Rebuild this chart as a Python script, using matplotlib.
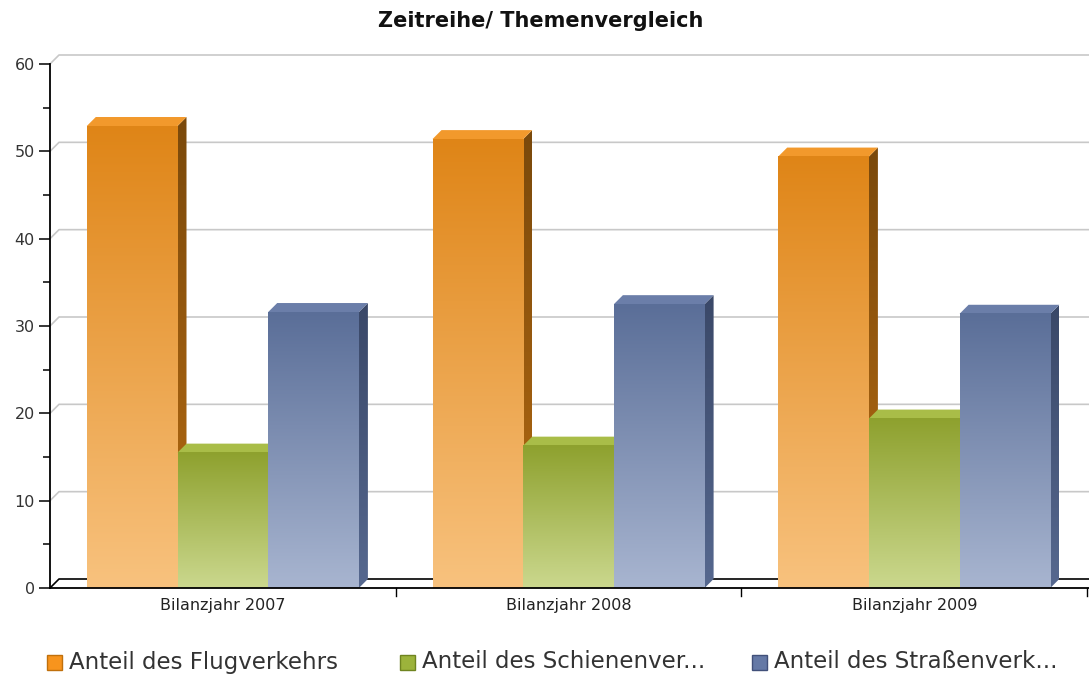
import numpy as np
import matplotlib
matplotlib.use("Agg")
import matplotlib.pyplot as plt
from matplotlib.patches import Polygon, Rectangle
from matplotlib.colors import LinearSegmentedColormap

# data
categories = ["Bilanzjahr 2007", "Bilanzjahr 2008", "Bilanzjahr 2009"]
series_names = ["Anteil des Flugverkehrs", "Anteil des Schienenver...", "Anteil des Straßenverk..."]
flug = [52.9, 51.4, 49.4]
schiene = [15.5, 16.3, 19.4]
strasse = [31.6, 32.5, 31.4]
series_values = [flug, schiene, strasse]

# colours per series: front (top, bottom), side (top, bottom), top face, legend
front_cols = [("#df8517", "#f8c27e"), ("#8ea12e", "#cbd88e"), ("#5a6e98", "#a8b5d0")]
side_cols = [("#7a490b", "#b86c12"), ("#5c6b1c", "#8c9d3a"), ("#3a4868", "#56688f")]
top_cols = ["#f2992c", "#a9bd48", "#6b7ea9"]
legend_cols = ["#f7941d", "#9cb33b", "#6579a6"]
legend_edge = ["#c0700c", "#6f8420", "#41507a"]

W, H = 1089, 675
fig = plt.figure(figsize=(W / 100, H / 100), dpi=100)

# axes placed in pixel terms: front x axis at y=588, 60 at y=64, left axis x=50
x0_px, y0_px, y60_px = 50, 588, 64
cat_px = 345.7
ax = fig.add_axes([x0_px / W, (H - y0_px) / H, (W - x0_px) / W, (y0_px - y60_px) / H])
ax.set_xlim(-0.5, -0.5 + (W - x0_px) / cat_px)
ax.set_ylim(0, 60)

px_y = (y0_px - y60_px) / 60.0
DX = 9 / cat_px
DY = 9 / px_y
bar_w = 90.7 / cat_px
xl = -0.5

# back wall grid lines
for v in range(10, 61, 10):
    ax.plot([xl, xl + DX, 3.2], [v, v + DY, v + DY], color="#c8c8c8", lw=1.2,
            zorder=1, clip_on=False)
ax.plot([xl, xl + DX, 3.2], [0, DY, DY], color="black", lw=1.2, zorder=1, clip_on=False)


def gradient(c_top, c_bot, extent, clip=None, z=3):
    cmap = LinearSegmentedColormap.from_list("g", [c_top, c_bot])
    grad = np.linspace(0, 1, 256).reshape(-1, 1)
    im = ax.imshow(grad, cmap=cmap, aspect="auto", extent=extent,
                   origin="upper", zorder=z, interpolation="bilinear")
    if clip is not None:
        im.set_clip_path(clip)
    return im


for i in range(len(categories)):
    for s, vals in enumerate(series_values):
        v = vals[i]
        left = i - 1.5 * bar_w + s * bar_w
        right = left + bar_w
        z = 3 + s
        # side face
        side = Polygon([(right, 0), (right + DX, DY), (right + DX, v + DY), (right, v)],
                       closed=True, facecolor="none", edgecolor="none", zorder=z)
        ax.add_patch(side)
        gradient(side_cols[s][0], side_cols[s][1], [right, right + DX, 0, v + DY], clip=side, z=z)
        # top face
        ax.add_patch(Polygon([(left, v), (left + DX, v + DY), (right + DX, v + DY), (right, v)],
                             closed=True, facecolor=top_cols[s], edgecolor="none", zorder=z))
        # front face
        gradient(front_cols[s][0], front_cols[s][1], [left, right, 0, v], z=z + 0.1)

# front x axis line and category tick marks
ax.plot([xl, 3.2], [0, 0], color="black", lw=1.3, zorder=10, clip_on=False)
ax.plot([xl, xl], [0, 60], color="black", lw=1.3, zorder=10, clip_on=False)
for b in [0.5, 1.5, 2.5]:
    ax.plot([b, b], [0, -0.9], color="black", lw=1.0, zorder=10, clip_on=False)

for sp in ax.spines.values():
    sp.set_visible(False)
ax.set_xticks([])
ax.set_yticks(range(0, 61, 10))
ax.set_yticks(range(5, 60, 10), minor=True)
ax.tick_params(axis="y", which="major", length=8, width=1.1, direction="out",
               labelsize=11.5, colors="black", pad=3)
ax.tick_params(axis="y", which="minor", length=5, width=1.1, direction="out")
ax.tick_params(axis="y", labelcolor="#333333")

for i, c in enumerate(categories):
    ax.text(i, -1.2, c, ha="center", va="top", fontsize=11.5, color="#222222")

fig.text(541 / W, 1 - 21 / H, "Zeitreihe/ Themenvergleich", ha="center", va="center",
         fontsize=15, fontweight="bold", color="#111111")

# legend
leg_x = [47, 400, 752]
for s, name in enumerate(series_names):
    fig.patches.append(Rectangle((leg_x[s] / W, 1 - 670 / H), 15 / W, 15 / H,
                                 transform=fig.transFigure, facecolor=legend_cols[s],
                                 edgecolor=legend_edge[s], lw=1))
    fig.text((leg_x[s] + 22) / W, 1 - 662 / H, name, ha="left", va="center",
             fontsize=16.5, color="#333333")

fig.savefig("out.png", dpi=100)
